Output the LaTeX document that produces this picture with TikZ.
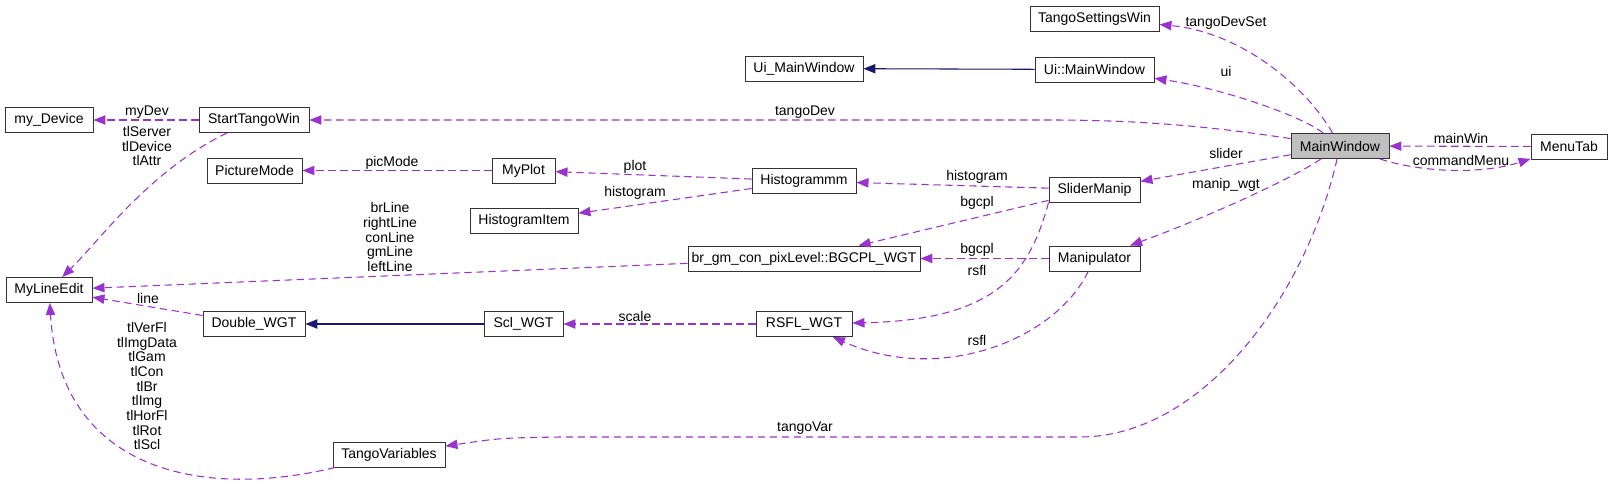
\documentclass[tikz,border=0pt]{standalone}
\usepackage{fontspec}
\setmainfont{Liberation Sans}
\usepackage{tikz}
\usetikzlibrary{arrows.meta}
\definecolor{umcol}{HTML}{9A32CD}
\definecolor{incol}{HTML}{191970}

\begin{document}
\begin{tikzpicture}[x=0.75pt, y=-0.75pt, every node/.style={font=\fontsize{10.5}{11}\selectfont}, cls/.style={draw=black!80, line width=0.7pt, fill=white, minimum height=18.75pt, inner sep=0pt}, cur/.style={cls, fill=black!25}, usage/.style={-{Triangle[length=9pt,width=7pt]}, draw=umcol, line width=0.8pt, dash pattern=on 5.5pt off 3.5pt}, inh/.style={-{Triangle[length=9pt,width=7pt]}, draw=incol, line width=0.8pt}, lbl/.style={align=center, inner sep=0pt}]
\useasboundingbox (0,0) rectangle (1613,489);
% classes
\node[cls, minimum width=66pt] (md) at (49,120) {my\_Device};
\node[cls, minimum width=82.5pt] (stw) at (254,120) {StartTangoWin};
\node[cls, minimum width=71.25pt] (pm) at (254.5,170.5) {PictureMode};
\node[cls, minimum width=47.25pt] (mp) at (523.5,170.5) {MyPlot};
\node[cls, minimum width=81pt] (hi) at (524,221) {HistogramItem};
\node[cls, minimum width=64.5pt] (mle) at (49,290) {MyLineEdit};
\node[cls, minimum width=76.5pt] (dw) at (254,324) {Double\_WGT};
\node[cls, minimum width=59.25pt] (scl) at (523.5,324) {Scl\_WGT};
\node[cls, minimum width=84pt] (tv) at (389,454.5) {TangoVariables};
\node[cls, minimum width=96.75pt] (tsw) at (1094.5,18.5) {TangoSettingsWin};
\node[cls, minimum width=88.5pt] (uimw) at (804,68.5) {Ui\_MainWindow};
\node[cls, minimum width=89.25pt] (uim) at (1094.5,69.5) {Ui::MainWindow};
\node[cls, minimum width=78pt] (hm) at (804,181) {Histogrammm};
\node[cls, minimum width=68.25pt] (sm) at (1094.5,189.5) {SliderManip};
\node[cls, minimum width=174pt] (bg) at (804,258.5) {br\_gm\_con\_pixLevel::BGCPL\_WGT};
\node[cls, minimum width=68.25pt] (man) at (1094.5,258.5) {Manipulator};
\node[cls, minimum width=72pt] (rs) at (804,324) {RSFL\_WGT};
\node[cur, minimum width=73.5pt] (mw) at (1340,146) {MainWindow};
\node[cls, minimum width=57pt] (mt) at (1569,146.5) {MenuTab};
% inheritance
\draw[inh] (uim) -- (uimw);
\draw[inh] (scl) -- (dw);
% members of MainWindow
\draw[usage] (mw) .. controls (1305,85) and (1240,32) .. (tsw) node[lbl] at (1226,23) {tangoDevSet};
\draw[usage] (mw) .. controls (1300,115) and (1220,88) .. (uim) node[lbl] at (1226,71) {ui};
\draw[usage] (mw) .. controls (1220,128) and (1150,120) .. (1050,120) -- (stw) node[lbl] at (805,112) {tangoDev};
\draw[usage] (mw) -- (sm) node[lbl] at (1226,153) {slider};
\draw[usage] (mw) .. controls (1290,180) and (1200,220) .. (man) node[lbl] at (1226,185) {manip\_wgt};
\draw[usage] (mw) .. controls (1305,300) and (1200,437) .. (1080,437) -- (560,437) .. controls (500,438) .. (tv) node[lbl] at (805,428) {tangoVar};
\draw[usage] (mt) -- (mw) node[lbl] at (1461,138) {mainWin};
\draw[usage] (mw) .. controls (1420,172) and (1480,175) .. (mt) node[lbl] at (1461,160) {commandMenu};
% the rest
\draw[usage] (stw) -- (md) node[lbl] at (147,112) {myDev};
\draw[usage] (stw) .. controls (150,170) and (100,240) .. (mle) node[lbl] at (147,146) {tlServer\\tlDevice\\tlAttr};
\draw[usage] (mp) -- (pm) node[lbl] at (392,163) {picMode};
\draw[usage] (hm) -- (mp) node[lbl] at (635,167) {plot};
\draw[usage] (hm) -- (hi) node[lbl] at (635,193) {histogram};
\draw[usage] (sm) -- (hm) node[lbl] at (977,177) {histogram};
\draw[usage] (sm) -- (bg) node[lbl] at (977,203) {bgcpl};
\draw[usage] (sm.south west) .. controls (1030,270) and (1000,320) .. (rs) node[lbl] at (977,270) {rsfl};
\draw[usage] (man) -- (bg) node[lbl] at (977,250) {bgcpl};
\draw[usage] (man) .. controls (1055,340) and (940,385) .. (rs) node[lbl] at (977,340) {rsfl};
\draw[usage] (bg) -- (mle) node[lbl] at (390,237) {brLine\\rightLine\\conLine\\gmLine\\leftLine};
\draw[usage] (dw) -- (mle) node[lbl] at (148,298) {line};
\draw[usage] (rs) -- (scl) node[lbl] at (635,316) {scale};
\draw[usage] (tv) .. controls (200,500) and (60,470) .. (mle) node[lbl] at (147,386) {tlVerFl\\tlImgData\\tlGam\\tlCon\\tlBr\\tlImg\\tlHorFl\\tlRot\\tlScl};
\end{tikzpicture}
\end{document}
